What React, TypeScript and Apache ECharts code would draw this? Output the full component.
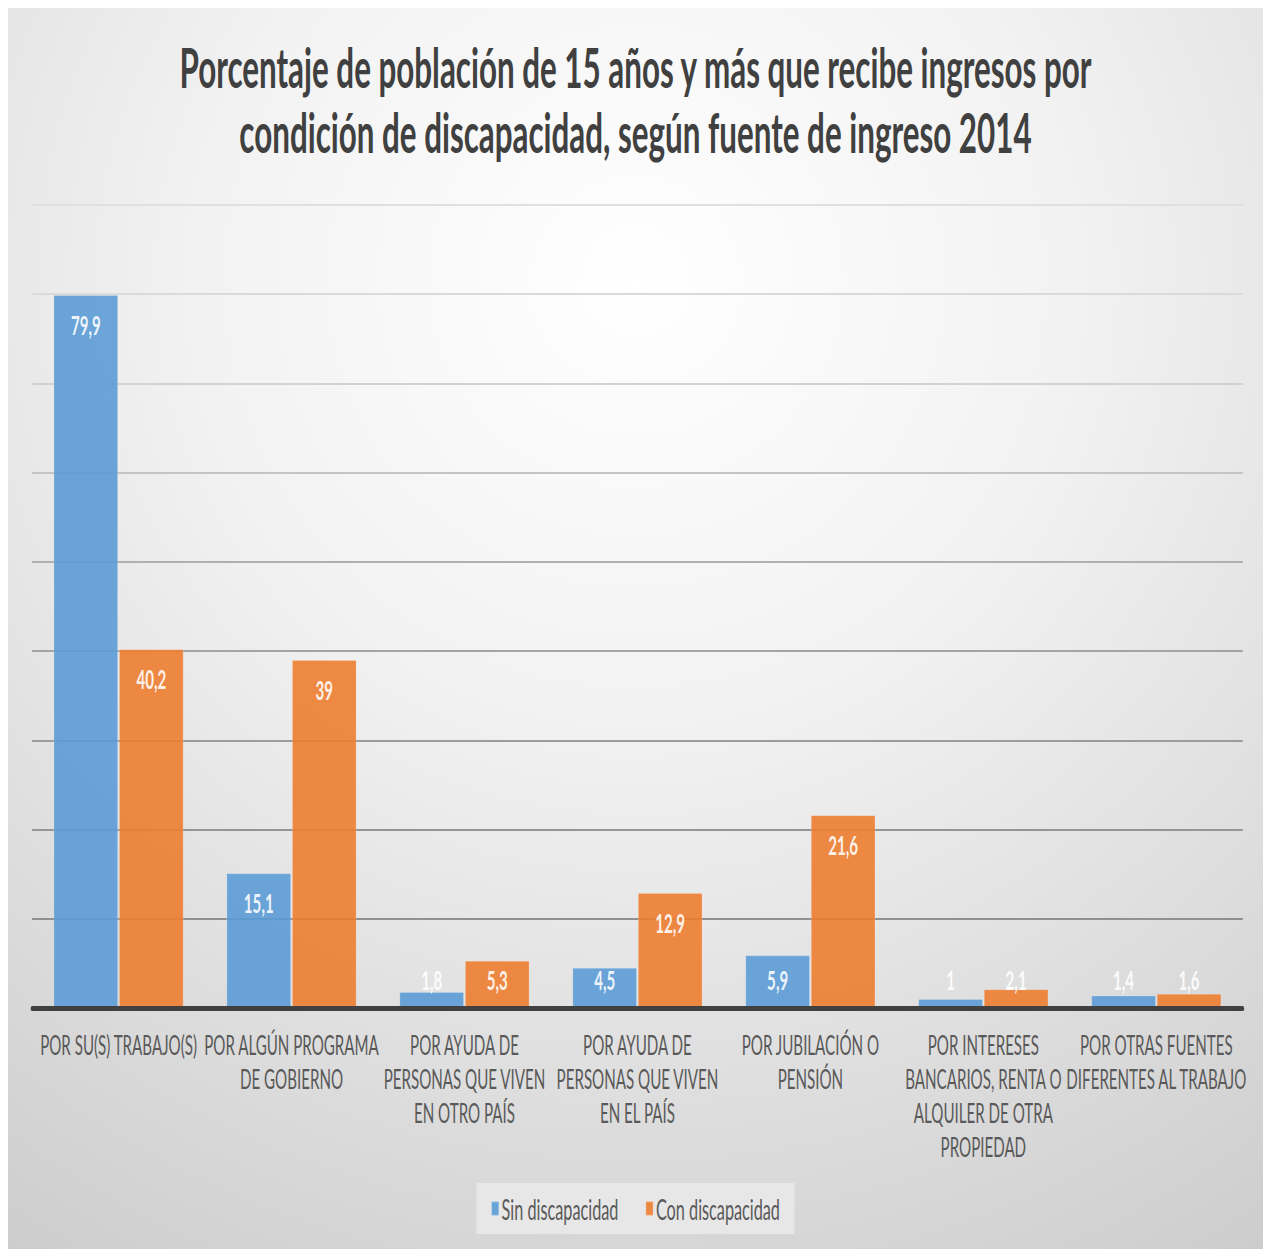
import React, { useEffect, useRef } from "react";
import * as echarts from "echarts";

const titleText =
  "Porcentaje de población de 15 años y más que recibe ingresos por\ncondición de discapacidad, según fuente de ingreso 2014";

const categories = [
  "POR SU(S) TRABAJO(S)",
  "POR ALGÚN PROGRAMA\nDE GOBIERNO",
  "POR AYUDA DE\nPERSONAS QUE VIVEN\nEN OTRO PAÍS",
  "POR AYUDA DE\nPERSONAS QUE VIVEN\nEN EL PAÍS",
  "POR JUBILACIÓN O\nPENSIÓN",
  "POR INTERESES\nBANCARIOS, RENTA O\nALQUILER DE OTRA\nPROPIEDAD",
  "POR OTRAS FUENTES\nDIFERENTES AL TRABAJO",
];

const seriesNames = ["Sin discapacidad", "Con discapacidad"];
const sinDiscapacidad = [79.9, 15.1, 1.8, 4.5, 5.9, 1, 1.4];
const conDiscapacidad = [40.2, 39, 5.3, 12.9, 21.6, 2.1, 1.6];

const yMin = 0;
const yMax = 90;
const yInterval = 10;

const SX = 0.56;
const PHYS_W = 1255;
const PHYS_H = 1241;
const LOG_W = Math.round(PHYS_W / SX);

const FONT = "Lato, 'Open Sans', sans-serif";

function fmt(v: number) {
  return String(v).replace(".", ",");
}

function buildData(values: number[]) {
  return values.map((v) => {
    const small = v < 6;
    return {
      value: v,
      label: small
        ? { position: "insideBottom", distance: 15 }
        : { position: "insideTop", distance: 16 },
    };
  });
}

export default function App() {
  const ref = useRef<HTMLDivElement>(null);

  useEffect(() => {
    if (!ref.current) return;
    const chart = echarts.init(ref.current, null, { renderer: "svg" });

    const labelCommon = {
      show: true,
      color: "#ffffff",
      fontFamily: FONT,
      fontWeight: "bold",
      fontSize: 27,
      formatter: (p: any) => fmt(p.value),
    };

    chart.setOption({
      animation: false,
      backgroundColor: new echarts.graphic.RadialGradient(0.5, 0.22, 1.0, [
        { offset: 0, color: "#ffffff" },
        { offset: 0.35, color: "#f2f2f2" },
        { offset: 1, color: "#c8c8c8" },
      ]),
      textStyle: { fontFamily: FONT },
      title: {
        text: titleText,
        left: "center",
        top: 26,
        padding: 0,
        textStyle: {
          fontFamily: FONT,
          fontWeight: "bold",
          fontSize: 56,
          lineHeight: 65,
          color: "#404040",
        },
      },
      legend: {
        data: seriesNames,
        left: "center",
        top: 1175,
        padding: [11, 26],
        backgroundColor: "#e7e7e7",
        itemWidth: 13,
        itemHeight: 14,
        itemGap: 48,
        icon: "rect",
        textStyle: {
          fontFamily: FONT,
          fontSize: 29,
          color: "#595959",
        },
      },
      grid: {
        left: 43,
        right: 36,
        top: 197,
        bottom: 241,
        containLabel: false,
      },
      xAxis: {
        type: "category",
        data: categories,
        axisLine: { show: true, lineStyle: { color: "#404040", width: 5 } },
        axisTick: { show: false },
        axisLabel: {
          interval: 0,
          margin: 20,
          fontFamily: FONT,
          fontSize: 27,
          lineHeight: 34,
          color: "#595959",
          align: "center",
        },
        z: 5,
      },
      yAxis: {
        type: "value",
        min: yMin,
        max: yMax,
        interval: yInterval,
        axisLine: { show: false },
        axisTick: { show: false },
        axisLabel: { show: false },
        splitLine: {
          show: true,
          lineStyle: {
            width: 2,
            color: [
              "#909090",
              "#909090",
              "#959595",
              "#9c9c9c",
              "#a4a4a4",
              "#b0b0b0",
              "#c4c4c4",
              "#d2d2d2",
              "#dadada",
              "#e0e0e0",
            ],
          },
        },
      },
      series: [
        {
          name: seriesNames[0],
          type: "bar",
          data: buildData(sinDiscapacidad),
          barGap: "2%",
          barCategoryGap: "25%",
          itemStyle: {
            color: "#5B9BD5",
            opacity: 0.9,
            borderColor: "rgba(255,255,255,0.25)",
            borderWidth: 1,
          },
          label: labelCommon,
        },
        {
          name: seriesNames[1],
          type: "bar",
          data: buildData(conDiscapacidad),
          barGap: "2%",
          barCategoryGap: "25%",
          itemStyle: {
            color: "#ED7D31",
            opacity: 0.9,
            borderColor: "rgba(255,255,255,0.25)",
            borderWidth: 1,
          },
          label: labelCommon,
        },
      ],
    });

    return () => chart.dispose();
  }, []);

  return (
    <div
      style={{
        width: PHYS_W,
        height: PHYS_H,
        overflow: "hidden",
        position: "relative",
        boxShadow: "inset 0 0 0 1px #c4c4c4",
      }}
    >
      <div
        ref={ref}
        style={{
          width: LOG_W,
          height: PHYS_H,
          transform: `scaleX(${SX})`,
          transformOrigin: "0 0",
        }}
      />
    </div>
  );
}
